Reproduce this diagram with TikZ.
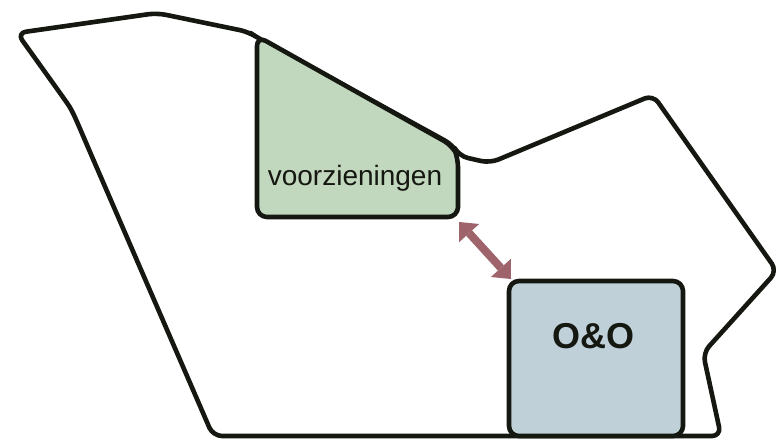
\documentclass[tikz,border=0pt]{standalone}
\usepackage{fontspec}
\setmainfont{Liberation Sans}
\usetikzlibrary{arrows.meta}
\definecolor{ink}{HTML}{151711}
\definecolor{greenfill}{HTML}{C2D8BE}
\definecolor{bluefill}{HTML}{BFD0D8}
\definecolor{arrowc}{HTML}{9E636B}
\tikzset{
  outline/.style={draw=ink, line width=4.6pt, rounded corners=9pt, line join=round},
  region/.style={draw=ink, line width=4.6pt, rounded corners=10pt, line join=round},
  biarrow/.style={draw=arrowc, line width=8pt,
    {Triangle[width=27pt,length=15pt,line width=0pt]}-{Triangle[width=27pt,length=15pt,line width=0pt]}},
  lab/.style={anchor=base, inner sep=0pt, text=ink}
}
\begin{document}
\begin{tikzpicture}[x=1pt,y=-1pt]
\useasboundingbox[fill=white] (0,0) rectangle (776,439);
% outer boundary
\draw[outline] (17,33) -- (157,13) -- (249,32) -- (258,38) -- (453,145) -- (459,156)
  -- (490,163) -- (653,95) -- (777,271) -- (703,353) -- (721,436) -- (213,436)
  -- (90,152) .. controls (72,110) .. (60,93) -- cycle;
% voorzieningen region
\draw[region, fill=greenfill] (257,36) -- (453,146) -- (458,157) -- (458,217) -- (257,217) -- cycle;
% O&O region
\draw[region, fill=bluefill] (509,281) rectangle (683,436);
% labels
\node[lab, font=\fontsize{28}{32}\selectfont] (voor) at (355,185) {voorzieningen};
\node[lab, font=\fontsize{36}{40}\selectfont\bfseries] (oo) at (593,348) {O\&O};
% arrow
\coordinate (p) at (459,222);
\coordinate (q) at (511,279);
\draw[biarrow] (p) -- (q);
\end{tikzpicture}
\end{document}
